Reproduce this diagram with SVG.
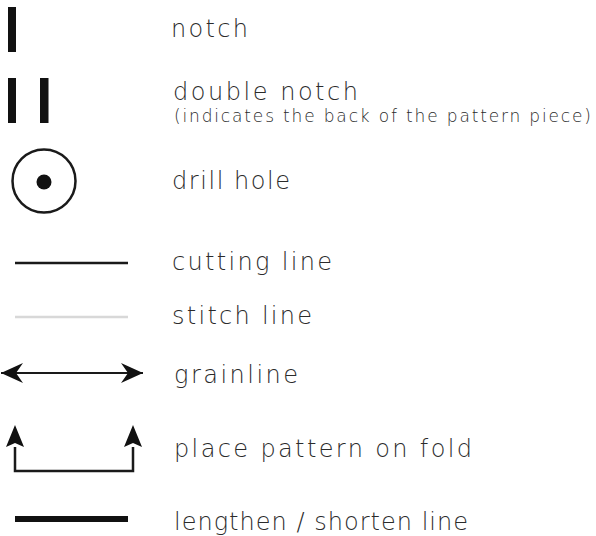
<svg xmlns="http://www.w3.org/2000/svg" width="596" height="536" viewBox="0 0 596 536">
<style>
.lbl{font-family:"DejaVu Sans","Liberation Sans",sans-serif;font-weight:200;font-size:24px;fill:#2b2b2b}
.sub{font-family:"DejaVu Sans","Liberation Sans",sans-serif;font-weight:200;font-size:17px;fill:#2b2b2b}
.ink{fill:#111}
</style>
<defs>
<marker id="ah" viewBox="0 0 22 20" refX="22" refY="10" markerWidth="22" markerHeight="20" markerUnits="userSpaceOnUse" orient="auto-start-reverse">
<path d="M0,0 L22,10 L0,20 L7,10 Z" fill="#111"/>
</marker>
</defs>
<rect width="596" height="536" fill="#fff"/>
<g id="notch">
<rect class="ink" x="8" y="7" width="8" height="45"/>
<text class="lbl" x="171" y="37" textLength="77" lengthAdjust="spacing">notch</text>
</g>
<g id="double-notch">
<rect class="ink" x="8" y="78" width="8" height="45"/>
<rect class="ink" x="40" y="78" width="8.5" height="45"/>
<text class="lbl" x="173" y="100" textLength="185" lengthAdjust="spacing">double notch</text>
<text class="sub" x="174" y="122" textLength="417" lengthAdjust="spacing">(indicates the back of the pattern piece)</text>
</g>
<g id="drill-hole">
<circle cx="44" cy="181" r="31.5" fill="none" stroke="#1a1a1a" stroke-width="2.5"/>
<circle class="ink" cx="44" cy="182" r="7.5"/>
<text class="lbl" x="172" y="189" textLength="118" lengthAdjust="spacing">drill hole</text>
</g>
<g id="cutting-line">
<text class="lbl" x="172" y="270" textLength="160" lengthAdjust="spacing">cutting line</text>
</g>
<g id="stitch-line">
<text class="lbl" x="172" y="324" textLength="140" lengthAdjust="spacing">stitch line</text>
</g>
<g id="grainline">
<text class="lbl" x="174" y="383" textLength="124" lengthAdjust="spacing">grainline</text>
</g>
<g id="fold">
<text class="lbl" x="174" y="457" textLength="298" lengthAdjust="spacing">place pattern on fold</text>
</g>
<g id="lengthen">
<text class="lbl" x="174" y="530" textLength="294" lengthAdjust="spacing">lengthen / shorten line</text>
</g>
<g id="connectors">
<line x1="15" y1="263" x2="128" y2="263" stroke="#1a1a1a" stroke-width="2.5"/>
<line x1="15" y1="317" x2="128" y2="317" stroke="#d8d8d8" stroke-width="2.5"/>
<line x1="1" y1="373" x2="143" y2="373" stroke="#1a1a1a" stroke-width="2" marker-start="url(#ah)" marker-end="url(#ah)"/>
<path d="M15,447 L15,471 L133,471 L133,447" fill="none" stroke="#1a1a1a" stroke-width="2.5"/>
<path d="M15,425 L24,447 L15,443 L6,447 Z" fill="#111"/>
<path d="M133,425 L142,447 L133,443 L124,447 Z" fill="#111"/>
<line x1="15" y1="519" x2="128" y2="519" stroke="#111" stroke-width="6"/>
</g>
</svg>
